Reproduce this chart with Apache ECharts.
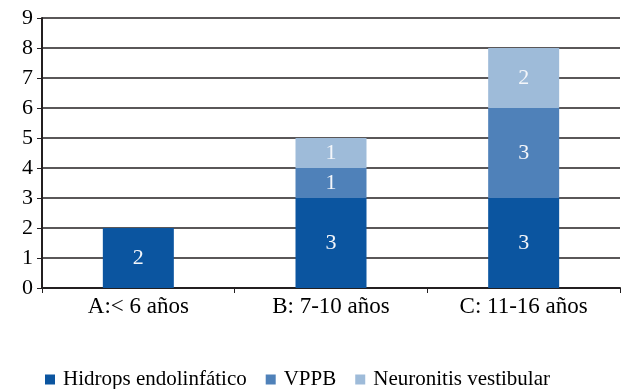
<!DOCTYPE html>
<html>
<head>
<meta charset="utf-8">
<script src="https://cdn.jsdelivr.net/npm/echarts@6/dist/echarts.min.js"></script>
<style>
  html, body { margin: 0; padding: 0; background: #fff; }
  #chart { width: 622px; height: 389px; }
</style>
</head>
<body>
<div id="chart"></div>
<script>
// datos
var categorias = ['A:< 6 años', 'B: 7-10 años', 'C: 11-16 años'];
var hidrops = [2, 3, 3];
var vppb = [0, 1, 3];
var neuronitis = [0, 1, 2];
var nombres = ['Hidrops endolinfático', 'VPPB', 'Neuronitis vestibular'];
var colores = ['#0b55a0', '#4f81b9', '#9ebbd9'];

var fuente = '"Liberation Serif", "DejaVu Serif", serif';
var myChart = echarts.init(document.getElementById('chart'));

function serie(nombre, datos, color) {
    return {
        name: nombre,
        type: 'bar',
        stack: 'total',
        barWidth: 71,
        data: datos.map(function (v) { return v === 0 ? null : v; }),
        itemStyle: { color: color },
        label: {
            show: true,
            position: 'inside',
            color: '#f4f6fa',
            fontFamily: fuente,
            fontSize: 22
        }
    };
}

var option = {
    animation: false,
    textStyle: { fontFamily: fuente },
    grid: { left: 42, right: 2, top: 18, bottom: 101 },
    legend: {
        top: 364,
        left: 40,
        itemWidth: 10,
        itemHeight: 10,
        itemGap: 19,
        icon: 'rect',
        textStyle: { fontFamily: fuente, fontSize: 21, color: '#000', padding: [0, 0, 0, 3] },
        data: nombres
    },
    xAxis: {
        type: 'category',
        data: categorias,
        axisLine: { lineStyle: { color: '#231f20', width: 2 } },
        axisTick: { show: true, length: 5, lineStyle: { color: '#231f20' } },
        axisLabel: { color: '#000', fontSize: 23, fontFamily: fuente, margin: 7 }
    },
    yAxis: {
        type: 'value',
        min: 0,
        max: 9,
        interval: 1,
        axisLine: { show: true, lineStyle: { color: '#231f20', width: 2 } },
        axisTick: { show: true, length: 5, lineStyle: { color: '#231f20' } },
        axisLabel: { color: '#000', fontSize: 22, fontFamily: fuente, margin: 9 },
        splitLine: { lineStyle: { color: '#231f20', width: 1.5 } }
    },
    series: [
        serie(nombres[0], hidrops, colores[0]),
        serie(nombres[1], vppb, colores[1]),
        serie(nombres[2], neuronitis, colores[2])
    ]
};
myChart.setOption(option);
</script>
</body>
</html>
